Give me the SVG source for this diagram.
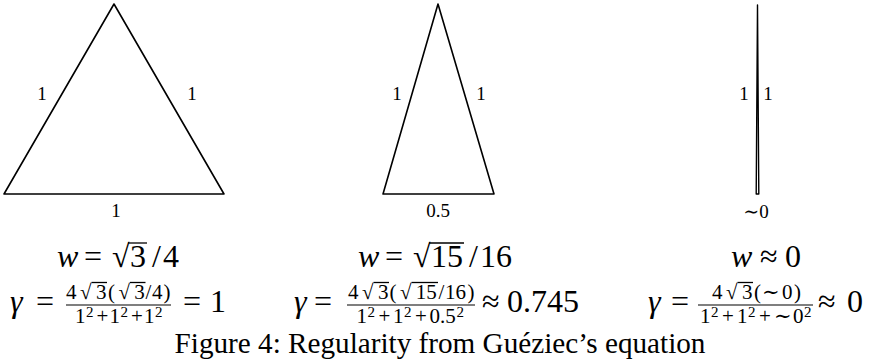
<svg xmlns="http://www.w3.org/2000/svg" width="870" height="360" viewBox="0 0 870 360">
<style>
text{font-family:"Liberation Serif","DejaVu Serif",serif;fill:#000}
.tri{fill:none;stroke:#000;stroke-width:1.6;stroke-linejoin:round}
.lbl{font-size:19px;text-anchor:middle}
.m{font-size:32px}
.n{font-size:21px}
.s{font-size:15px}
.i{font-style:italic}
.bar{stroke:#000;stroke-width:1.2}
.vin{stroke:#000;stroke-width:1.3}
.cap{font-size:29.2px;text-anchor:middle}
</style>
<g id="triangle1">
<polygon class="tri" points="114,4 4,194 224,194"/>
<text class="lbl" x="42" y="100">1</text>
<text class="lbl" x="192" y="100">1</text>
<text class="lbl" x="116" y="217">1</text>
</g>
<g id="triangle2">
<polygon class="tri" points="438,4 383,194 494,194"/>
<text class="lbl" x="397" y="100">1</text>
<text class="lbl" x="481" y="100">1</text>
<text class="lbl" x="438" y="217">0.5</text>
</g>
<g id="triangle3">
<polygon class="tri" style="stroke-width:1.4" points="757.5,5 756.2,194 758.8,194"/>
<text class="lbl" x="744" y="100">1</text>
<text class="lbl" x="768" y="100">1</text>
<text class="lbl" x="756" y="218">∼0</text>
</g>
<g id="formula1">
<text class="m" y="267"><tspan x="57" class="i">w</tspan><tspan x="84">=</tspan><tspan x="112">√</tspan><tspan x="130">3</tspan><tspan x="152">/</tspan><tspan x="163">4</tspan></text>
<line class="vin" x1="128" y1="243" x2="147" y2="243"/>
<text class="m" y="312"><tspan x="10" class="i">γ</tspan><tspan x="36">=</tspan><tspan x="183">=</tspan><tspan x="210">1</tspan></text>
<text class="n" y="298.5"><tspan x="66">4</tspan><tspan x="80">√</tspan><tspan x="96">3</tspan><tspan x="108">(</tspan><tspan x="118.5">√</tspan><tspan x="134.2">3</tspan><tspan x="145.5">/</tspan><tspan x="152">4</tspan><tspan x="163.5">)</tspan></text>
<line class="vin" x1="91.5" y1="282.5" x2="107" y2="282.5"/>
<line class="vin" x1="130" y1="282.5" x2="145.5" y2="282.5"/>
<line class="bar" x1="66" y1="305" x2="171" y2="305"/>
<text class="n" y="322.5"><tspan x="75">1</tspan><tspan x="86" dy="-5.5" class="s">2</tspan><tspan x="96.5" dy="5.5">+</tspan><tspan x="109.5">1</tspan><tspan x="120.5" dy="-5.5" class="s">2</tspan><tspan x="131" dy="5.5">+</tspan><tspan x="144">1</tspan><tspan x="155" dy="-5.5" class="s">2</tspan></text>
</g>
<g id="formula2">
<text class="m" y="267"><tspan x="358" class="i">w</tspan><tspan x="385">=</tspan><tspan x="413">√</tspan><tspan x="431">15</tspan><tspan x="469">/</tspan><tspan x="480">16</tspan></text>
<line class="vin" x1="429" y1="243" x2="464" y2="243"/>
<text class="m" y="312"><tspan x="294" class="i">γ</tspan><tspan x="314">=</tspan><tspan x="482">≈</tspan><tspan x="507">0.745</tspan></text>
<text class="n" y="298.5"><tspan x="348">4</tspan><tspan x="362">√</tspan><tspan x="378">3</tspan><tspan x="389.5">(</tspan><tspan x="400">√</tspan><tspan x="415.7">15</tspan><tspan x="438.5">/</tspan><tspan x="445">16</tspan><tspan x="467.5">)</tspan></text>
<line class="vin" x1="373.5" y1="282.5" x2="389" y2="282.5"/>
<line class="vin" x1="411.5" y1="282.5" x2="438" y2="282.5"/>
<line class="bar" x1="347" y1="305" x2="475" y2="305"/>
<text class="n" y="322.5"><tspan x="356.5">1</tspan><tspan x="367.5" dy="-5.5" class="s">2</tspan><tspan x="378.5" dy="5.5">+</tspan><tspan x="393">1</tspan><tspan x="404" dy="-5.5" class="s">2</tspan><tspan x="415" dy="5.5">+</tspan><tspan x="429.5">0.5</tspan><tspan x="456.5" dy="-5.5" class="s">2</tspan></text>
</g>
<g id="formula3">
<text class="m" y="267"><tspan x="731" class="i">w</tspan><tspan x="760">≈</tspan><tspan x="785">0</tspan></text>
<text class="m" y="312"><tspan x="648" class="i">γ</tspan><tspan x="671">=</tspan><tspan x="818">≈</tspan><tspan x="847">0</tspan></text>
<text class="n" y="298.5"><tspan x="712">4</tspan><tspan x="726">√</tspan><tspan x="742">3</tspan><tspan x="754">(</tspan><tspan x="762">∼</tspan><tspan x="782">0</tspan><tspan x="794">)</tspan></text>
<line class="vin" x1="737.5" y1="282.5" x2="753" y2="282.5"/>
<line class="bar" x1="698" y1="305" x2="813" y2="305"/>
<text class="n" y="322.5"><tspan x="700">1</tspan><tspan x="711" dy="-5.5" class="s">2</tspan><tspan x="722" dy="5.5">+</tspan><tspan x="737">1</tspan><tspan x="748" dy="-5.5" class="s">2</tspan><tspan x="759" dy="5.5">+</tspan><tspan x="774">∼</tspan><tspan x="793">0</tspan><tspan x="804" dy="-5.5" class="s">2</tspan></text>
</g>
<g id="caption">
<text class="cap" x="440" y="353">Figure 4: Regularity from Guéziec’s equation</text>
</g>
</svg>
